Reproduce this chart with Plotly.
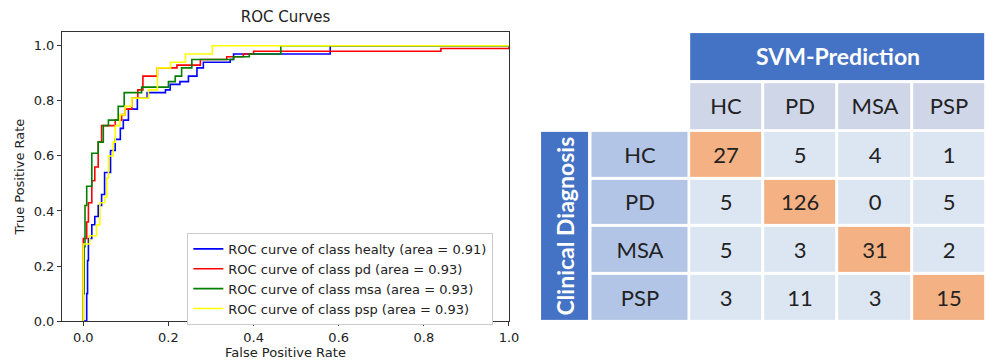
import plotly.graph_objects as go

# ---------------- ROC data ----------------
classes = ["healty", "pd", "msa", "psp"]
areas = [0.91, 0.93, 0.93, 0.93]
line_colors = ["blue", "red", "green", "yellow"]

fpr_healty = [0, 0.008, 0.010, 0.012, 0.020, 0.027, 0.035, 0.043, 0.050, 0.064, 0.075, 0.087,
              0.094, 0.106, 0.127, 0.150, 0.193, 0.204, 0.227, 0.247, 0.267, 0.282, 0.345,
              0.353, 0.58, 1.0]
tpr_healty = [0, 0.10, 0.22, 0.30, 0.35, 0.38, 0.42, 0.46, 0.54, 0.62, 0.66, 0.70,
              0.73, 0.77, 0.81, 0.83, 0.84, 0.86, 0.87, 0.89, 0.92, 0.94, 0.95,
              0.97, 1.0, 1.0]

fpr_pd = [0, 0, 0.008, 0.012, 0.020, 0.027, 0.035, 0.043, 0.075, 0.090, 0.098, 0.114,
          0.128, 0.140, 0.174, 0.220, 0.275, 0.337, 0.376, 0.40, 0.84, 1.0]
tpr_pd = [0, 0.30, 0.36, 0.43, 0.51, 0.56, 0.65, 0.71, 0.73, 0.75, 0.77, 0.81,
          0.84, 0.89, 0.92, 0.93, 0.95, 0.96, 0.97, 0.98, 0.99, 1.0]

fpr_msa = [0, 0, 0.002, 0.004, 0.008, 0.020, 0.035, 0.047, 0.059, 0.082, 0.096, 0.137,
           0.200, 0.216, 0.231, 0.255, 0.353, 0.39, 0.464, 1.0]
tpr_msa = [0, 0.10, 0.27, 0.42, 0.49, 0.61, 0.65, 0.71, 0.73, 0.78, 0.83, 0.85,
           0.87, 0.89, 0.92, 0.95, 0.96, 0.97, 1.0, 1.0]

fpr_psp = [0, 0, 0.015, 0.031, 0.039, 0.050, 0.055, 0.059, 0.070, 0.075, 0.086, 0.098,
           0.114, 0.153, 0.174, 0.205, 0.240, 0.303, 1.0]
tpr_psp = [0, 0.28, 0.31, 0.35, 0.43, 0.45, 0.52, 0.60, 0.65, 0.71, 0.75, 0.78,
           0.81, 0.84, 0.92, 0.94, 0.97, 1.0, 1.0]

fpr_list = [fpr_healty, fpr_pd, fpr_msa, fpr_psp]
tpr_list = [tpr_healty, tpr_pd, tpr_msa, tpr_psp]

# ---------------- confusion matrix ----------------
pred_labels = ["HC", "PD", "MSA", "PSP"]
true_labels = ["HC", "PD", "MSA", "PSP"]
conf_matrix = [
    [27, 5, 4, 1],
    [5, 126, 0, 5],
    [5, 3, 31, 2],
    [3, 11, 3, 15],
]
header_text = "SVM-Prediction"
side_text = "Clinical Diagnosis"

# table geometry (in units of one data cell)
n = len(pred_labels)
data_edges = list(range(n + 1))
label_col = [-1.33, 0]
side_col = [-2.01, -1.33]
colhead_row = [-1.02, 0]
header_row = [-2.07, -1.02]

dark_blue = "#4472C4"
mid_blue = "#B2C5E6"
lavender = "#CFD6E8"
light_blue = "#DCE5F2"
orange = "#F4B183"
table_font = "Lato"
cell_size = 22


def solid(c):
    return [[0, c], [1, c]]


fig = go.Figure()

for name, area, color, fpr, tpr in zip(classes, areas, line_colors, fpr_list, tpr_list):
    fig.add_trace(
        go.Scatter(
            x=fpr,
            y=tpr,
            mode="lines",
            line=dict(color=color, width=1.6, shape="hv"),
            name="ROC curve of class %s (area = %.2f)" % (name, area),
            xaxis="x",
            yaxis="y",
        )
    )

# data cells
diag = [[1 if i == j else 0 for j in range(n)] for i in range(n)]
fig.add_trace(
    go.Heatmap(
        z=diag,
        x=data_edges,
        y=data_edges,
        text=[[str(v) for v in row] for row in conf_matrix],
        texttemplate="%{text}",
        textfont=dict(family=table_font, size=cell_size, color="#222222"),
        colorscale=[[0, light_blue], [0.5, light_blue], [0.5, orange], [1, orange]],
        zmin=0,
        zmax=1,
        showscale=False,
        xgap=3,
        ygap=3,
        hoverinfo="skip",
        xaxis="x2",
        yaxis="y2",
    )
)
# row labels
fig.add_trace(
    go.Heatmap(
        z=[[0] for _ in true_labels],
        x=label_col,
        y=data_edges,
        text=[[t] for t in true_labels],
        texttemplate="%{text}",
        textfont=dict(family=table_font, size=cell_size, color="#222222"),
        colorscale=solid(mid_blue),
        showscale=False,
        xgap=3,
        ygap=3,
        hoverinfo="skip",
        xaxis="x2",
        yaxis="y2",
    )
)
# column labels
fig.add_trace(
    go.Heatmap(
        z=[[0] * n],
        x=data_edges,
        y=colhead_row,
        text=[pred_labels],
        texttemplate="%{text}",
        textfont=dict(family=table_font, size=cell_size, color="#222222"),
        colorscale=solid(lavender),
        showscale=False,
        xgap=3,
        ygap=3,
        hoverinfo="skip",
        xaxis="x2",
        yaxis="y2",
    )
)
# header cell
fig.add_trace(
    go.Heatmap(
        z=[[0]],
        x=[data_edges[0], data_edges[-1]],
        y=header_row,
        text=[["<b>" + header_text + "</b>"]],
        texttemplate="%{text}",
        textfont=dict(family=table_font, size=23, color="white"),
        colorscale=solid(dark_blue),
        showscale=False,
        xgap=3,
        ygap=3,
        hoverinfo="skip",
        xaxis="x2",
        yaxis="y2",
    )
)
# side cell
fig.add_trace(
    go.Heatmap(
        z=[[0]],
        x=side_col,
        y=[data_edges[0], data_edges[-1]],
        colorscale=solid(dark_blue),
        showscale=False,
        xgap=3,
        ygap=3,
        hoverinfo="skip",
        xaxis="x2",
        yaxis="y2",
    )
)

fig.add_annotation(
    x=sum(side_col) / 2,
    y=(data_edges[0] + data_edges[-1]) / 2,
    xref="x2",
    yref="y2",
    text="<b>" + side_text + "</b>",
    textangle=-90,
    showarrow=False,
    font=dict(family=table_font, size=23, color="white"),
)

axis_font = dict(family="DejaVu Sans", size=13, color="#222222")
fig.update_layout(
    width=986,
    height=360,
    margin=dict(l=0, r=0, t=0, b=0),
    paper_bgcolor="white",
    plot_bgcolor="white",
    font=axis_font,
    title=dict(
        text="ROC Curves",
        x=0.2896,
        xanchor="center",
        y=0.953,
        yanchor="middle",
        font=dict(family="DejaVu Sans", size=15, color="#222222"),
    ),
    xaxis=dict(
        domain=[0.0629, 0.5162],
        range=[-0.05, 1.0],
        tickvals=[0, 0.2, 0.4, 0.6, 0.8, 1.0],
        tickformat=".1f",
        showgrid=False,
        zeroline=False,
        showline=True,
        linecolor="#333333",
        linewidth=1,
        mirror=True,
        ticks="outside",
        ticklen=4,
        tickcolor="#333333",
        title=dict(text="False Positive Rate", standoff=3, font=axis_font),
        automargin=False,
        anchor="y",
    ),
    yaxis=dict(
        domain=[0.108, 0.911],
        range=[0, 1.05],
        tickvals=[0, 0.2, 0.4, 0.6, 0.8, 1.0],
        tickformat=".1f",
        showgrid=False,
        zeroline=False,
        showline=True,
        linecolor="#333333",
        linewidth=1,
        mirror=True,
        ticks="outside",
        ticklen=4,
        tickcolor="#333333",
        title=dict(text="True Positive Rate", standoff=6, font=axis_font),
        automargin=False,
        anchor="x",
    ),
    xaxis2=dict(domain=[0.5477, 1.0], range=[side_col[0], data_edges[-1]], visible=False,
                automargin=False, anchor="y2"),
    yaxis2=dict(domain=[0.106, 0.911], range=[data_edges[-1], header_row[0]], visible=False,
                automargin=False, anchor="x2"),
    legend=dict(
        x=0.19,
        y=0.353,
        xanchor="left",
        yanchor="top",
        bgcolor="white",
        bordercolor="#cccccc",
        borderwidth=1,
        font=dict(family="DejaVu Sans", size=13, color="#222222"),
        tracegroupgap=0,
    ),
)

fig.write_html(
    "out.html",
    config={"displayModeBar": False},
    post_script="document.body.style.margin='0px';",
)
